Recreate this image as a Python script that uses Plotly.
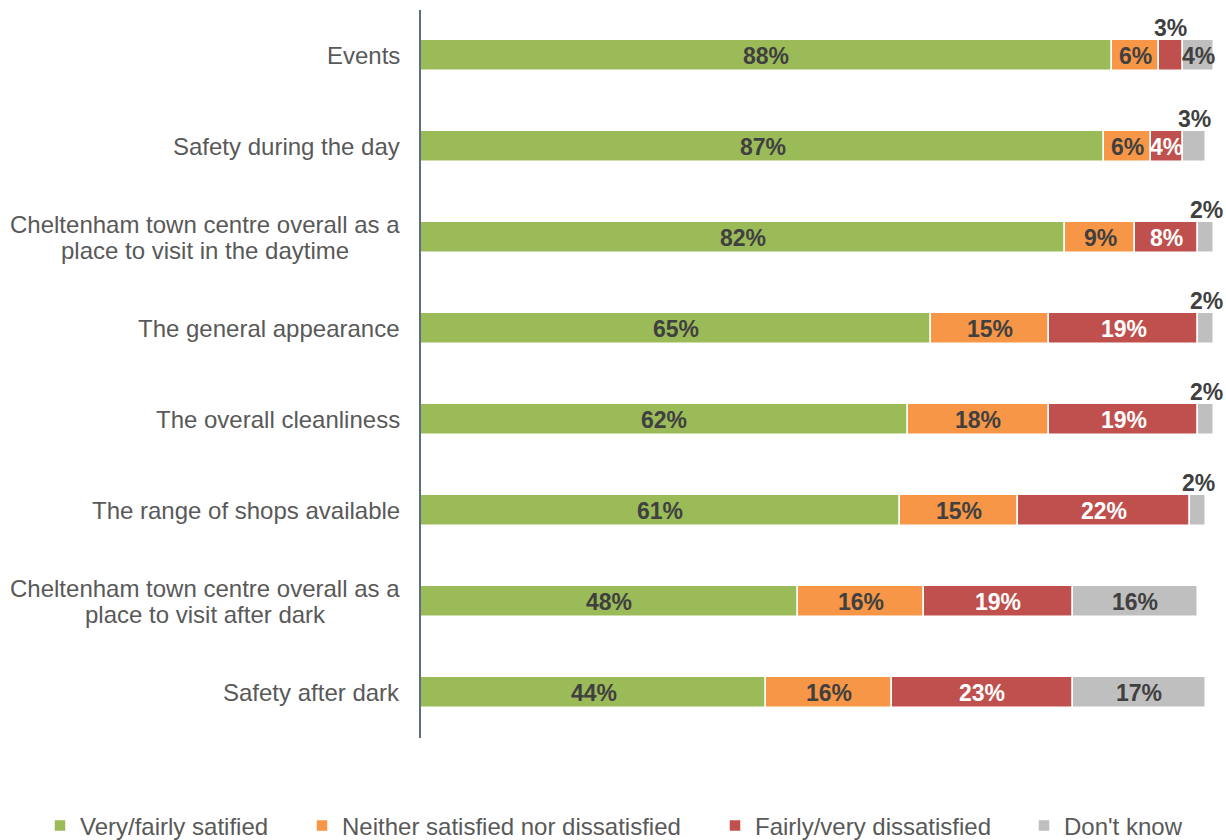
import plotly.graph_objects as go

categories = [
    "Events",
    "Safety during the day",
    "Cheltenham town centre overall as a<br>place to visit in the daytime",
    "The general appearance",
    "The overall cleanliness",
    "The range of shops available",
    "Cheltenham town centre overall as a<br>place to visit after dark",
    "Safety after dark",
]

satisfied = [88, 87, 82, 65, 62, 61, 48, 44]
neither = [6, 6, 9, 15, 18, 15, 16, 16]
dissatisfied = [3, 4, 8, 19, 19, 22, 19, 23]
dont_know = [4, 3, 2, 2, 2, 2, 16, 17]

series = [
    ("Very/fairly satified", satisfied, "#9BBB59", "#404040"),
    ("Neither satisfied nor dissatisfied", neither, "#F79646", "#404040"),
    ("Fairly/very dissatisfied", dissatisfied, "#C0504D", "#FFFFFF"),
    ("Don't know", dont_know, "#BFBFBF", "#404040"),
]

FONT = "Liberation Sans"
LABEL_SIZE = 24
W, H = 1226, 840
ML, MR, MT, MB = 421, 12, 10, 102
plot_w = W - ML - MR
plot_h = H - MT - MB

# Arial/Liberation Sans advance widths (per 1000 em) for label text width
_ADV = {" ": 278, "a": 556, "b": 556, "c": 500, "d": 556, "e": 556, "f": 278,
        "g": 556, "h": 556, "i": 222, "j": 222, "k": 500, "l": 222, "m": 833,
        "n": 556, "o": 556, "p": 556, "q": 556, "r": 333, "s": 500, "t": 278,
        "u": 556, "v": 500, "w": 722, "x": 500, "y": 500, "z": 500, "C": 722}


def text_width(s, size):
    return sum(_ADV.get(ch, 600) for ch in s) * size / 1000


ykeys = list(range(len(categories)))

fig = go.Figure()
annotations = []
base = [0] * len(categories)
legend_ids = ["legend", "legend2", "legend3", "legend4"]
legend_left_px = [40, 302, 715, 1024]
for k, (name, vals, color, txtcol) in enumerate(series):
    fig.add_trace(go.Bar(
        name=name, y=ykeys, x=vals, base=base[:], orientation="h",
        marker=dict(color=color, line=dict(color="white", width=1.5)),
        width=0.34, hoverinfo="skip", legend=legend_ids[k],
    ))
    for i, v in enumerate(vals):
        centre = base[i] + v / 2
        small = v <= 3
        annotations.append(dict(
            x=centre, y=ykeys[i], xref="x", yref="y",
            text=f"<b>{v}%</b>", showarrow=False,
            yshift=28 if small else 0,
            font=dict(family=FONT, size=23,
                      color="#404040" if small else txtcol),
        ))
        base[i] += v

# category labels: right edge against the axis, extra lines centred
# under the widest line
LINE_GAP = 26
PAD = 21
for i, c in enumerate(categories):
    lines = c.split("<br>")
    n = len(lines)
    widest = max(text_width(s, LABEL_SIZE) for s in lines)
    for j, line in enumerate(lines):
        common = dict(
            y=ykeys[i], xref="paper", yref="y", x=0, showarrow=False,
            yshift=((n - 1) / 2 - j) * LINE_GAP, text=line,
            font=dict(family=FONT, size=LABEL_SIZE, color="#595959"),
        )
        if n == 1:
            annotations.append(dict(common, xanchor="right", xshift=-PAD + 2))
        else:
            annotations.append(dict(common, xanchor="center",
                                    xshift=-PAD - widest / 2))

legend_y = (H - MB - 826) / plot_h
legends = {}
for lid, px in zip(legend_ids, legend_left_px):
    legends[lid] = dict(
        orientation="h", x=(px - ML) / plot_w, xanchor="left",
        y=legend_y, yanchor="middle", bgcolor="rgba(0,0,0,0)",
        font=dict(family=FONT, size=24, color="#595959"),
        itemwidth=30,
    )

fig.update_layout(
    width=W, height=H,
    margin=dict(l=ML, r=MR, t=MT, b=MB, autoexpand=False),
    plot_bgcolor="white", paper_bgcolor="white",
    barmode="overlay", bargap=0,
    showlegend=True,
    annotations=annotations,
    xaxis=dict(range=[0, 101], showgrid=False, zeroline=False,
               showticklabels=False, showline=False, fixedrange=True),
    yaxis=dict(range=[len(categories) - 0.5, -0.5], showgrid=False,
               zeroline=False, showticklabels=False, showline=True,
               linecolor="#5A6E85", linewidth=1.5, ticks=""),
    **legends,
)

fig.write_html("out.html")
